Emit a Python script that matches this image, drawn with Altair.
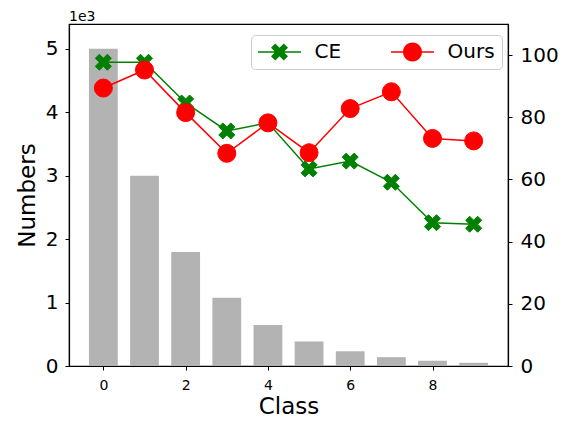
import altair as alt
import pandas as pd

# ---------------- data ----------------
classes = [0, 1, 2, 3, 4, 5, 6, 7, 8, 9]
numbers = [5000, 2997, 1796, 1077, 645, 387, 232, 139, 83, 50]
ce_acc = [97.7, 97.7, 84.6, 75.6, 78.2, 63.4, 65.9, 59.1, 46.1, 45.6]
ours_acc = [89.4, 95.2, 81.5, 68.4, 78.2, 68.6, 82.8, 88.2, 73.2, 72.4]
series_names = ["CE", "Ours"]
series_colors = ["#008000", "#ff0000"]
x_ticks = [0, 2, 4, 6, 8]
left_ticks = [0, 1000, 2000, 3000, 4000, 5000]
right_ticks = [0, 20, 40, 60, 80, 100]

FONT = "DejaVu Sans"
BAR_COLOR = "#b3b3b3"

bars_df = pd.DataFrame({"cls": classes, "num": numbers})
acc_df = pd.DataFrame({
    "cls": classes + classes,
    "acc": ce_acc + ours_acc,
    "series": [series_names[0]] * len(classes) + [series_names[1]] * len(classes),
})

# marker shapes (matplotlib-like filled X and circle)
X_PATH = ("M-0.5,-1L0,-0.5L0.5,-1L1,-0.5L0.5,0L1,0.5L0.5,1L0,0.5"
          "L-0.5,1L-1,0.5L-0.5,0L-1,-0.5Z")
LINE_SEG = "M-2.263,-0.079L2.263,-0.079L2.263,0.079L-2.263,0.079Z "
CE_LEG = LINE_SEG + ("M-0.447,-0.895L0,-0.447L0.447,-0.895L0.895,-0.447L0.447,0"
                     "L0.895,0.447L0.447,0.895L0,0.447L-0.447,0.895L-0.895,0.447"
                     "L-0.447,0L-0.895,-0.447Z")
OURS_LEG = LINE_SEG + "M1,0A1,1 0 1,1 -1,0A1,1 0 1,1 1,0Z"

# ---------------- scales & axes ----------------
x_scale = alt.Scale(domain=[-0.835, 9.835], nice=False, zero=False)
x_axis = alt.Axis(values=x_ticks, title="Class", labelFontSize=14, titleFontSize=23,
                  labelPadding=8, titlePadding=3, tickSize=4, format="d")

left_scale = alt.Scale(domain=[0, 5390], nice=False, zero=False)
left_axis = alt.Axis(values=left_ticks, labelExpr="datum.value / 1000", title="Numbers",
                     labelFontSize=20, titleFontSize=23, labelPadding=7, titlePadding=6,
                     tickSize=4)

right_scale = alt.Scale(domain=[0, 110], nice=False)
right_axis = alt.Axis(orient="right", values=right_ticks, title=None, labelFontSize=20,
                      labelPadding=8, tickSize=4)

# ---------------- layers ----------------
bars = alt.Chart(bars_df).transform_calculate(
    x0="datum.cls - 0.35", x1="datum.cls + 0.35"
).mark_rect(color=BAR_COLOR).encode(
    x=alt.X("x0:Q", scale=x_scale, axis=x_axis),
    x2="x1:Q",
    y=alt.Y("num:Q", scale=left_scale, axis=left_axis),
    y2=alt.Y2(datum=0),
)


def series_layers(name, color, shape, size):
    base = alt.Chart(acc_df).transform_filter(f"datum.series == '{name}'")
    enc = dict(
        x=alt.X("cls:Q", scale=x_scale, axis=x_axis),
        y=alt.Y("acc:Q", scale=right_scale, axis=right_axis),
    )
    line = base.mark_line(color=color, strokeWidth=1.5).encode(**enc)
    pts = base.mark_point(filled=True, shape=shape, size=size, color=color,
                          stroke=color, strokeWidth=1, opacity=1).encode(**enc)
    return [line, pts]


legend_layer = alt.Chart(acc_df).transform_filter("false").mark_point(filled=True).encode(
    x=alt.X("cls:Q", scale=x_scale, axis=x_axis),
    y=alt.Y("acc:Q", scale=right_scale, axis=right_axis),
    color=alt.Color("series:N", scale=alt.Scale(domain=series_names, range=series_colors),
                    legend=alt.Legend(title=None)),
    shape=alt.Shape("series:N", scale=alt.Scale(domain=series_names, range=[CE_LEG, OURS_LEG]),
                    legend=alt.Legend(title=None)),
)

right_layers = alt.layer(
    *series_layers("CE", series_colors[0], X_PATH, 256),
    *series_layers("Ours", series_colors[1], "circle", 324),
    legend_layer,
)

chart = alt.layer(bars, right_layers).resolve_scale(y="independent").properties(
    width=439,
    height=342,
    padding={"left": 61, "top": 16, "right": 56, "bottom": 56},
    autosize=alt.AutoSizeParams(type="none"),
    title=alt.TitleParams(text="1e3", anchor="start", fontSize=14, font=FONT,
                          fontWeight="normal", color="black", offset=0,
                          frame="group"),
).configure_view(
    stroke="black", strokeWidth=1.2
).configure_axis(
    grid=False, domainColor="black", domainWidth=1.2, tickColor="black", tickWidth=1,
    labelColor="black", titleColor="black", labelFont=FONT, titleFont=FONT,
    titleFontWeight="normal",
).configure_legend(
    orient="none", legendX=182, legendY=11, direction="horizontal",
    columnPadding=49, labelFontSize=20, labelFont=FONT, labelColor="black",
    symbolSize=361, symbolOffset=11.5, labelOffset=25, padding=7,
    strokeColor="#cccccc", fillColor="rgba(255,255,255,0.8)", cornerRadius=4,
    symbolStrokeWidth=0, symbolOpacity=1, labelLimit=200,
)

chart.save("out.html", embed_options={"renderer": "svg", "actions": False})
